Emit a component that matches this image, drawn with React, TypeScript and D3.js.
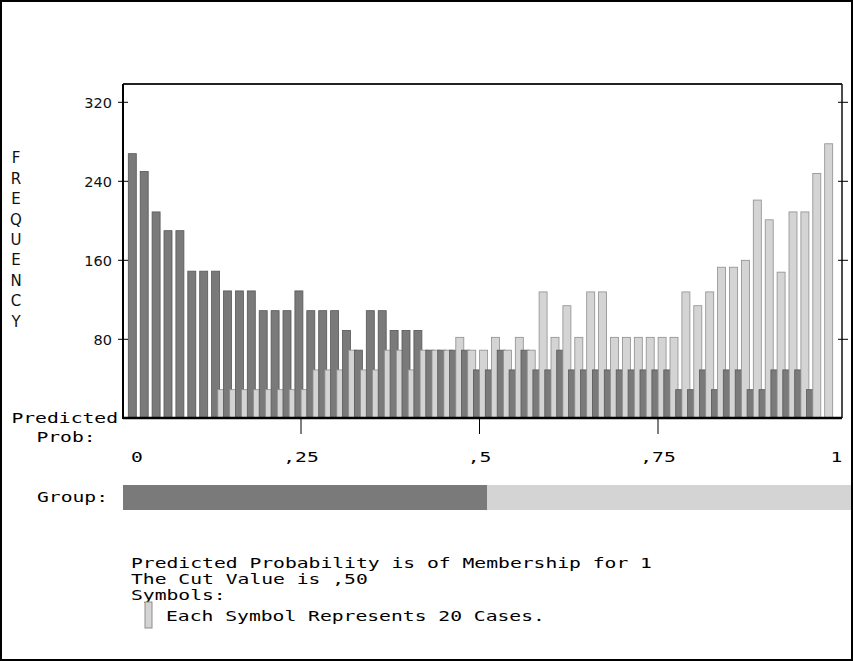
import React from "react";
import * as d3 from "d3";

// ---- data (frequencies per probability bin) ----
const group0Freq: number[] = [
  268, 250, 209, 190, 190, 149, 149, 149, 129, 129, 129, 109, 109, 109, 129,
  109, 109, 109, 89, 69, 109, 109, 89, 89, 89, 69, 69, 69, 69, 49,
  49, 69, 49, 69, 49, 49, 69, 49, 49, 49, 49, 49, 49, 49, 49,
  49, 29, 29, 49, 29, 49, 49, 29, 29, 49, 49, 49, 29, 0,
];
const group1Freq: number[] = [
  0, 0, 0, 0, 0, 0, 0, 29, 29, 29, 29, 29, 29, 29, 29,
  49, 49, 49, 69, 49, 49, 69, 69, 49, 69, 69, 69, 82, 69, 69,
  82, 69, 82, 69, 128, 82, 114, 82, 128, 128, 82, 82, 82, 82, 82,
  82, 128, 114, 128, 153, 153, 160, 221, 201, 148, 209, 209, 248, 278,
];
const yTicks: number[] = [80, 160, 240, 320];
const xTickValues: number[] = [0, 0.25, 0.5, 0.75, 1];
const xTickLabels: string[] = ["0", ",25", ",5", ",75", "1"];
const cutValue = 0.5;
const yTitle = "FREQUENCY";
const noteLines: string[] = [
  "Predicted Probability is of Membership for 1",
  "The Cut Value is ,50",
  "Symbols:",
];
const legendText = "Each Symbol Represents 20 Cases.";

const W = 853;
const H = 661;
const DARK = "#7a7a7a";
const DARK_STROKE = "#585858";
const LIGHT = "#d4d4d4";
const LIGHT_STROKE = "#8e8e8e";
const MONO = "'DejaVu Sans Mono', 'Liberation Mono', monospace";
const SANS = "'DejaVu Sans', Verdana, sans-serif";
const MONO_SIZE = 14.5;
const CHAR_W = 11.84;

function Mono(props: { x: number; y: number; anchor?: string; text: string }) {
  const a = props.anchor || "start";
  return (
    <text x={props.x} y={props.y} dy="0.36em" textAnchor={a} fontFamily={MONO}
      fontSize={MONO_SIZE} textLength={props.text.length * CHAR_W} lengthAdjust="spacingAndGlyphs" fill="#000">
      {props.text}
    </text>
  );
}

export default function App() {
  const frame = { left: 123, right: 842, top: 84, bottom: 418 };
  const y = d3.scaleLinear().domain([0, 320]).range([418.3, 102.3]);
  const nBins = group0Freq.length;
  const xb = d3.scaleLinear().domain([0, 60]).range([128.3, 842.3]);
  const xp = d3.scaleLinear().domain([0, 1]).range([122.5, 836.5]);
  const xg = d3.scaleLinear().domain([0, 1]).range([123, 851]);
  const barW = 8;
  const offset = 6.2;

  const bars: React.ReactNode[] = [];
  for (let i = 0; i < nBins; i++) {
    const v0 = group0Freq[i];
    const v1 = group1Freq[i];
    if (v0 > 0)
      bars.push(
        <rect key={"d" + i} x={xb(i)} y={y(v0)} width={barW} height={y(0) - y(v0)}
          fill={DARK} stroke={DARK_STROKE} strokeWidth={0.8} />
      );
    if (v1 > 0)
      bars.push(
        <rect key={"l" + i} x={xb(i) + offset} y={y(v1)} width={barW} height={y(0) - y(v1)}
          fill={LIGHT} stroke={LIGHT_STROKE} strokeWidth={0.8} />
      );
  }

  return (
    <svg width={W} height={H} style={{ display: "block", position: "absolute", left: 0, top: 0 }}>
      <rect x={0} y={0} width={W} height={H} fill="#fff" />
      <rect x={1} y={1} width={W - 2} height={H - 2} fill="none" stroke="#000" strokeWidth={2} />

      {bars}

      {/* frame */}
      <line x1={frame.left} x2={frame.right} y1={frame.top} y2={frame.top} stroke="#222" strokeWidth={2} />
      <line x1={frame.right} x2={frame.right} y1={frame.top} y2={frame.bottom} stroke="#111" strokeWidth={1.5} />
      <line x1={frame.left} x2={frame.left} y1={frame.top} y2={frame.bottom + 1} stroke="#000" strokeWidth={2} />
      <line x1={frame.left} x2={frame.right} y1={frame.bottom} y2={frame.bottom} stroke="#000" strokeWidth={2.5} />

      {/* y ticks */}
      {yTicks.map((t) => (
        <g key={t}>
          <line x1={118} x2={128} y1={y(t)} y2={y(t)} stroke="#000" strokeWidth={1} />
          <line x1={838} x2={848} y1={y(t)} y2={y(t)} stroke="#000" strokeWidth={1} />
          <text x={112} y={y(t)} dy="0.36em" textAnchor="end" fontFamily={SANS} fontSize={14.5} fill="#111">
            {t}
          </text>
        </g>
      ))}

      {/* y title, stacked letters */}
      {yTitle.split("").map((ch, i) => (
        <text key={i} x={16} y={158 + i * 20.4} dy="0.36em" textAnchor="middle" fontFamily={SANS} fontSize={15} fill="#111">
          {ch}
        </text>
      ))}

      {/* x axis ticks */}
      {xTickValues.filter((v) => v > 0 && v < 1).map((v) => (
        <line key={v} x1={xp(v)} x2={xp(v)} y1={frame.bottom} y2={434} stroke="#000" strokeWidth={1} />
      ))}
      {xTickValues.map((v, i) => (
        <Mono key={"xl" + i} x={i === 0 ? xp(v) + 14.5 : xp(v)} y={457} anchor="middle" text={xTickLabels[i]} />
      ))}
      <Mono x={118} y={418} anchor="end" text="Predicted" />
      <Mono x={66} y={437} anchor="middle" text="Prob:" />

      {/* group bar */}
      <Mono x={108} y={497} anchor="end" text="Group:" />
      <rect x={xg(0)} y={485} width={xg(cutValue) - xg(0)} height={25} fill={DARK} />
      <rect x={xg(cutValue)} y={485} width={xg(1) - xg(cutValue)} height={25} fill={LIGHT} />

      {/* notes */}
      {noteLines.map((s, i) => (
        <Mono key={"n" + i} x={131} y={563 + i * 16} anchor="start" text={s} />
      ))}
      <rect x={145} y={602} width={7} height={26} fill={LIGHT} stroke={LIGHT_STROKE} strokeWidth={1} />
      <Mono x={166} y={616} anchor="start" text={legendText} />
    </svg>
  );
}
